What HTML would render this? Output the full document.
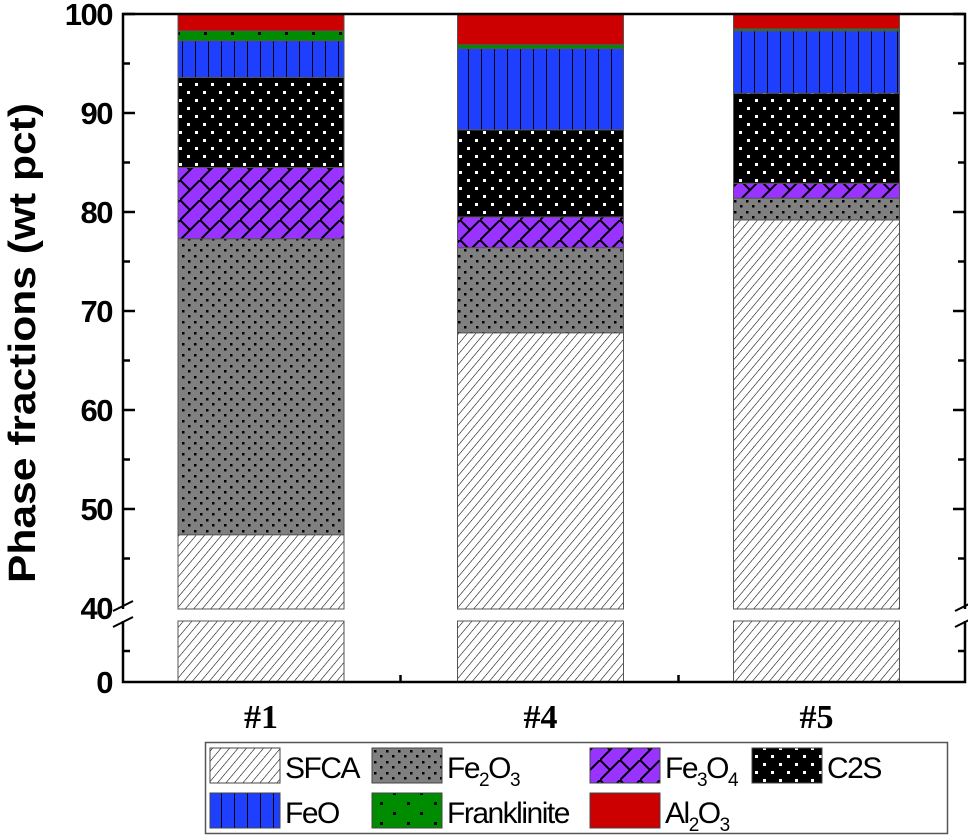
<!DOCTYPE html>
<html><head><meta charset="utf-8"><style>
body{margin:0;background:#fff}
svg{display:block;font-family:"Liberation Sans",sans-serif}
</style></head><body>
<svg id="c" width="968" height="837">
<defs>
<pattern id="p-sfca" width="6.5" height="8" patternUnits="userSpaceOnUse" patternTransform="rotate(40)"><rect width="8" height="8" fill="#fff"/><line x1="0" y1="0" x2="0" y2="8" stroke="#000" stroke-width="1.1"/></pattern>
<pattern id="p-fe2o3" width="12" height="11" patternUnits="userSpaceOnUse"><rect width="12" height="11" fill="#808080"/><rect x="2" y="2" width="2.5" height="2.5" fill="#000"/><rect x="8" y="7" width="2.5" height="2.5" fill="#000"/></pattern>
<pattern id="p-fe3o4" width="20" height="20" patternUnits="userSpaceOnUse"><rect width="20" height="20" fill="#9933ff"/><path d="M0 20 L20 0 M0 0 L10 10" stroke="#000" stroke-width="2"/></pattern>
<pattern id="p-c2s" width="16" height="16" patternUnits="userSpaceOnUse"><rect width="16" height="16" fill="#000"/><rect x="3" y="3" width="3" height="3" fill="#fff"/><rect x="11" y="11" width="3" height="3" fill="#fff"/></pattern>
<pattern id="p-feo" width="13" height="10" patternUnits="userSpaceOnUse"><rect width="13" height="10" fill="#1f3fff"/><line x1="0.5" y1="0" x2="0.5" y2="10" stroke="#000" stroke-width="1"/></pattern>
<pattern id="p-frank" width="27" height="20" patternUnits="userSpaceOnUse"><rect width="27" height="20" fill="#008c00"/><rect x="2" y="2" width="3" height="3" fill="#000"/><rect x="15" y="12" width="3" height="3" fill="#000"/></pattern>
<pattern id="p-al2o3" width="10" height="10" patternUnits="userSpaceOnUse"><rect width="10" height="10" fill="#cc0000"/></pattern>
</defs>
<g id="bars"></g>
<g id="axes"></g>
<g id="legend"></g>
</svg>
<script>
const categories=["#1","#4","#5"];
const seriesNames=["SFCA","Fe2O3","Fe3O4","C2S","FeO","Franklinite","Al2O3"];
const sfca=[47.4,67.8,79.2];
const fe2o3=[29.9,8.6,2.2];
const fe3o4=[7.2,3.1,1.5];
const c2s=[9.1,8.8,9.1];
const feo=[3.7,8.2,6.3];
const franklinite=[1.0,0.4,0.2];
const al2o3=[1.7,3.1,1.5];
const yTicksUpper=[40,50,60,70,80,90,100];
const yTicksLower=[0];
const series=[sfca,fe2o3,fe3o4,c2s,feo,franklinite,al2o3];
const pats=["p-sfca","p-fe2o3","p-fe3o4","p-c2s","p-feo","p-frank","p-al2o3"];
const NS="http://www.w3.org/2000/svg";
function mk(t,a,p){const e=document.createElementNS(NS,t);for(const k in a)e.setAttribute(k,a[k]);p.appendChild(e);return e;}
function y(v){ if(v>=40) return 14+(100-v)*9.9; return 682-v*(62/40); }
const L=123,R=965,B=682,T=14;
const bw=166, centers=[261,540.5,816.5];
function xc(i){return centers[i];}
const gb=document.getElementById('bars');
categories.forEach((c,i)=>{
  let cum=0;
  series.forEach((s,k)=>{
    const v0=cum, v1=cum+s[i]; cum=v1;
    const segs = v0<40 && v1>40 ? [[v0,40],[40,v1]] : [[v0,v1]];
    segs.forEach(([a,b])=>{
      let y0=y(a), y1=y(b);
      if(a<40&&b<=40){y1=Math.max(y1,621);}
      if(a>=40&&a<=40.001){y0=609;}
      const r=mk('rect',{x:xc(i)-bw/2,y:y1,width:bw,height:Math.max(0,y0-y1),fill:'url(#'+pats[k]+')',stroke:'#555','stroke-width':1},gb);
      
      
    });
  });
});
const ga=document.getElementById('axes');
mk('path',{d:`M${L} 609 V${T} H${R} V609 M${R} 621 V${B} H${L} V621`,fill:'none',stroke:'#000','stroke-width':2.5},ga);
[L,R].forEach(x=>{mk('path',{d:`M${x-10} 611 L${x+10} 601 M${x-10} 627 L${x+10} 617`,stroke:'#000','stroke-width':2,fill:'none'},ga);});
for(let v=40;v<=100;v+=5){const major=v%10==0;const yy=y(v);const len=major?12:7;
  if(v>40){mk('line',{x1:L,y1:yy,x2:L+len,y2:yy,stroke:'#000','stroke-width':2.5},ga);mk('line',{x1:R,y1:yy,x2:R-len,y2:yy,stroke:'#000','stroke-width':2.5},ga);}
}
[20].forEach(v=>{const yy=y(v);mk('line',{x1:L,y1:yy,x2:L+7,y2:yy,stroke:'#000','stroke-width':2.5},ga);mk('line',{x1:R,y1:yy,x2:R-7,y2:yy,stroke:'#000','stroke-width':2.5},ga);});
[400.5,678.5].forEach(x=>mk('line',{x1:x,y1:B,x2:x,y2:B-7,stroke:'#000','stroke-width':2.5},ga));
yTicksUpper.concat(yTicksLower).forEach(v=>{const t=mk('text',{x:L-11,y:y(v)+11,'text-anchor':'end','font-size':31,'font-weight':'bold',transform:'',style:'letter-spacing:-1.5px'},ga);t.textContent=v;
 });
categories.forEach((c,i)=>{const t=mk('text',{x:xc(i),y:728,'text-anchor':'middle','font-size':34,'font-weight':'bold','font-family':'Liberation Serif, serif'},ga);t.textContent=c;
 });
const yt=mk('text',{x:0,y:0,transform:'translate(35 343) rotate(-90)','text-anchor':'middle','font-size':38,'font-weight':'bold',textLength:480,lengthAdjust:'spacingAndGlyphs'},ga);
yt.textContent='Phase fractions (wt pct)';

const gl=document.getElementById('legend');
const lb=mk('rect',{x:205.5,y:742.5,width:742,height:91,fill:'#fff',stroke:'#555','stroke-width':1.5},gl);

const lpos=[[210,748],[372,748],[590,748],[752,748],[210,793],[372,793],[590,793]];
const labels=['SFCA','Fe<tspan font-size="19" dy="8">2</tspan><tspan dy="-8">O</tspan><tspan font-size="19" dy="8">3</tspan>','Fe<tspan font-size="19" dy="8">3</tspan><tspan dy="-8">O</tspan><tspan font-size="19" dy="8">4</tspan>','C2S','FeO','Franklinite','Al<tspan font-size="19" dy="8">2</tspan><tspan dy="-8">O</tspan><tspan font-size="19" dy="8">3</tspan>'];
lpos.forEach(([x,yy],k)=>{
  const g=mk('g',{},gl);
  
  
  mk('rect',{x:x,y:yy,width:70,height:35,fill:'url(#'+pats[k]+')',stroke:'#444','stroke-width':1},g);
  const t=mk('text',{x:x+75,y:yy+30,'font-size':30,style:'letter-spacing:-1.5px'},g);t.innerHTML=labels[k];
});
</script>
</body></html>
